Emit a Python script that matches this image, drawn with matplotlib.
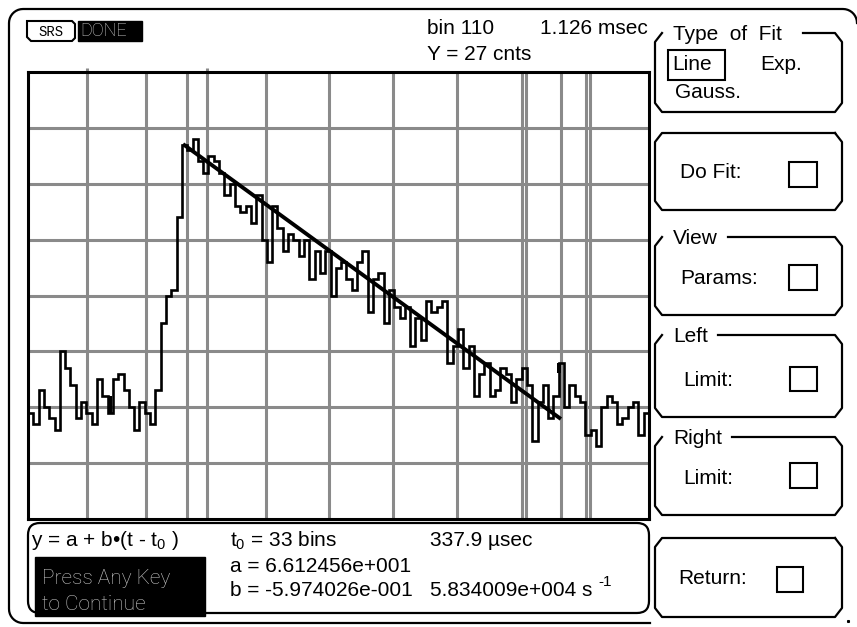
import numpy as np
import matplotlib
matplotlib.use("Agg")
import matplotlib.pyplot as plt
from matplotlib.patches import Rectangle, Polygon, FancyBboxPatch

plt.rcParams['font.family'] = ['Liberation Sans', 'DejaVu Sans']
plt.rcParams['mathtext.fontset'] = 'custom'
plt.rcParams['mathtext.rm'] = 'Liberation Sans'
plt.rcParams['mathtext.it'] = 'Liberation Sans'

# histogram counts per bin
counts = [19, 17, 23, 20, 18, 16, 30, 27, 24, 18,
          21, 19, 17, 25, 22, 19, 25, 26, 23, 20,
          16, 21, 19, 17, 23, 35, 40, 41, 54, 67,
          66, 68, 64, 62, 65, 64, 62, 58, 60, 56,
          55, 56, 53, 58, 50, 46, 56, 52, 48, 51,
          50, 47, 50, 43, 48, 44, 48, 40, 45, 46,
          43, 41, 46, 48, 37, 43, 44, 35, 41, 38,
          36, 38, 31, 36, 32, 39, 37, 38, 39, 28,
          31, 34, 27, 31, 22, 26, 28, 22, 23, 27,
          26, 21, 25, 27, 24, 14, 21, 24, 18, 22,
          28, 20, 24, 22, 21, 15, 16, 13, 20, 22,
          21, 17, 18, 20, 21, 15, 19]

# vertical grid / cursor lines (in bins) and horizontal grid (counts)
grid_x = [11.1, 22.2, 29.9, 33.7, 44.9, 56.8, 68.8, 80.9, 93.0, 93.9, 100.5, 105.1, 105.9]
grid_y = [10, 20, 30, 40, 50, 60, 70]
top_ticks = [11.1, 33.7]

# fitted line endpoints
fit_t = [29.2, 100.4]
fit_y = [67.1, 17.9]

cursor_bin = 100
dark_bin = 15

header = ["bin 110", "1.126 msec", "Y = 27 cnts"]
fit_lines = [r"y = a + b•(t - t$_0$ )", r"t$_0$ = 33 bins", "337.9 µsec",
             "a = 6.612456e+001", "b = -5.974026e-001", "5.834009e+004 s"]

FS = 15
fig = plt.figure(figsize=(8.57, 6.27), dpi=100)
bg = fig.add_axes([0, 0, 1, 1])
bg.set_xlim(0, 857)
bg.set_ylim(627, 0)
bg.axis('off')


def arc(cx, cy, r, a0, a1):
    t = np.radians(np.linspace(a0, a1, 10))
    return list(zip(cx + r * np.cos(t), cy + r * np.sin(t)))


# outer frame (right side runs off the screen)
pts = [(650, 623)] + arc(23, 609, 14, 90, 180) + arc(23, 23, 14, 180, 270) + arc(843, 23, 14, 270, 360)
xs, ys = zip(*pts)
bg.plot(xs, ys, color='black', lw=1.6)
bg.plot([848], [621], marker='s', ms=1.2, color='black')

# header: SRS badge and DONE
bg.add_patch(Polygon([(27, 21), (72, 21), (75, 24), (75, 38), (72, 41), (31, 41), (27, 37)],
                     closed=True, fill=False, ec='black', lw=1.5))
bg.text(51, 31.5, "SRS", family='Liberation Mono', fontsize=10, ha='center', va='center')
bg.add_patch(Rectangle((78, 21), 64, 20, color='black'))
bg.text(80, 31.5, "DONE", color='#c8c8c8', fontsize=13, fontweight='light',
        family=['Roboto', 'DejaVu Sans'], va='center')
bg.text(427, 29, header[0], fontsize=FS, va='center')
bg.text(540, 29, header[1], fontsize=FS, va='center')
bg.text(427, 55, header[2], fontsize=FS, va='center')

# lower parameter panel
bg.add_patch(FancyBboxPatch((28, 523), 621, 90, boxstyle="round,pad=0,rounding_size=12",
                            fill=False, ec='black', lw=1.6))
bg.text(31, 541, fit_lines[0], fontsize=FS, va='center')
bg.text(230, 541, fit_lines[1], fontsize=FS, va='center')
bg.text(430, 541, fit_lines[2], fontsize=FS, va='center')
bg.text(230, 566, fit_lines[3], fontsize=FS, va='center')
bg.text(230, 591, fit_lines[4], fontsize=FS, va='center')
bg.text(430, 591, fit_lines[5], fontsize=FS, va='center')
bg.text(598, 582, "-1", fontsize=11, va='center')
bg.add_patch(Rectangle((35, 557), 170, 59, color='black'))
bg.text(42, 578, "Press Any Key", color='#c8c8c8', fontsize=15, fontweight='light',
        family=['Roboto', 'DejaVu Sans'], va='center')
bg.text(42, 605, "to Continue", color='#c8c8c8', fontsize=15, fontweight='light',
        family=['Roboto', 'DejaVu Sans'], va='center')


# right-hand soft key boxes
def softkey(y0, y1, title=None, gap_end=None):
    x0, x1, c, d = 655, 842, 7, 9
    pts = [(x1 - c, y0), (x1, y0 + d), (x1, y1 - d), (x1 - c, y1),
           (x0 + c, y1), (x0, y1 - d), (x0, y0 + d), (x0 + c, y0)]
    if title is None:
        pts.append(pts[0])
    else:
        pts.insert(0, (gap_end, y0))
        bg.text(673, y0 + 1, title, fontsize=FS, va='center')
    xs, ys = zip(*pts)
    bg.plot(xs, ys, color='black', lw=1.6)


def checkbox(x, y, w=28, h=25):
    bg.add_patch(Rectangle((x, y), w, h, fill=False, ec='black', lw=1.5))


softkey(33, 112, "Type  of  Fit", 803)
bg.add_patch(Rectangle((668, 50), 57, 30, fill=False, ec='black', lw=1.5))
bg.text(672, 65, "Line", fontsize=FS, va='center')
bg.text(760, 65, "Exp.", fontsize=FS, va='center')
bg.text(675, 92, "Gauss.", fontsize=FS, va='center')

softkey(133, 210)
bg.text(680, 173, "Do Fit:", fontsize=FS, va='center')
checkbox(789, 162)

softkey(237, 315, "View", 728)
bg.text(680, 278, "Params:", fontsize=FS, va='center')
checkbox(789, 265)

softkey(335, 417, "Left", 718)
bg.text(683, 380, "Limit:", fontsize=FS, va='center')
checkbox(790, 367, 27, 24)

softkey(437, 515, "Right", 732)
bg.text(683, 478, "Limit:", fontsize=FS, va='center')
checkbox(790, 463, 27, 25)

softkey(538, 617)
bg.text(678, 578, "Return:", fontsize=FS, va='center')
checkbox(777, 567, 26, 25)

# histogram display
ax = fig.add_axes([28 / 857, (627 - 519) / 627, 621 / 857, (519 - 72) / 627])
edges = np.arange(len(counts) + 1)
ax.set_xlim(0, len(counts))
ax.set_ylim(0, 80)
ax.set_xticks(grid_x)
ax.set_yticks(grid_y)
ax.tick_params(length=0, labelbottom=False, labelleft=False)
ax.grid(True, color='#8a8a8a', lw=2.2)
ax.set_axisbelow(True)
for s in ax.spines.values():
    s.set_linewidth(2.2)
ax.vlines(top_ticks, 80, 80.8, color='#8a8a8a', lw=2.2, clip_on=False)

ax.stairs(counts, edges, color='black', lw=1.9, baseline=None)
ax.bar(dark_bin + 0.4, counts[dark_bin - 1] - counts[dark_bin], width=0.75,
       bottom=counts[dark_bin], color='black')
ax.bar(cursor_bin, 1.8, width=0.8, bottom=counts[cursor_bin] - 1.8, color='black')
ax.plot(fit_t, fit_y, color='black', lw=2.8, solid_capstyle='butt')

fig.savefig("out.png", dpi=100)
